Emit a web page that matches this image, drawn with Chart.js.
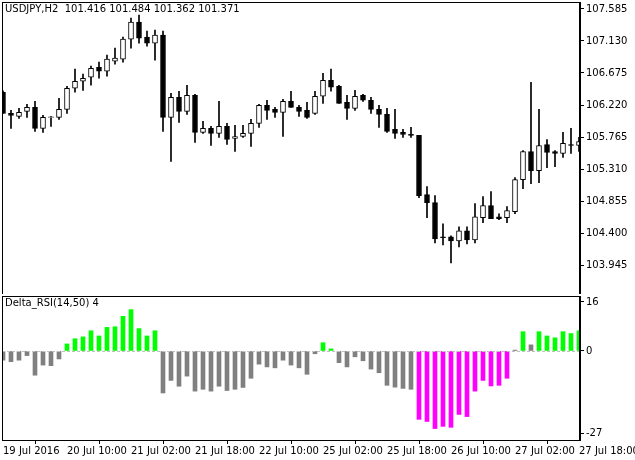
<!DOCTYPE html>
<html>
<head>
<meta charset="utf-8">
<script src="https://cdn.jsdelivr.net/npm/chart.js@4.4.1/dist/chart.umd.min.js"></script>
<style>
  body { margin: 0; background: #fff; }
  #wrap { position: relative; width: 635px; height: 460px; }
  #top { position: absolute; left: 0; top: 0; }
  #bot { position: absolute; left: 0; top: 294px; }
</style>
</head>
<body>
<div id="wrap">
  <canvas id="top" width="635" height="294"></canvas>
  <canvas id="bot" width="635" height="166"></canvas>
</div>
<script>
// USDJPY H2 candles
var opens = [106.401,106.101,106.058,106.130,106.187,105.887,106.044,106.044,106.158,106.458,
  106.558,106.615,106.757,106.700,106.843,106.872,107.157,107.399,107.185,107.100,
  107.214,106.044,106.329,106.130,106.358,105.830,105.887,105.816,105.916,105.745,
  105.773,105.816,105.959,106.215,106.158,106.116,106.272,106.187,106.144,106.101,
  106.344,106.572,106.486,106.258,106.173,106.358,106.287,106.158,106.087,105.873,
  105.830,105.802,105.788,104.946,104.832,104.347,104.347,104.290,104.433,104.304,
  104.618,104.789,104.632,104.618,104.704,105.160,105.559,105.288,105.659,105.559,
  105.531,105.659,105.645];
var highs = [106.420,106.144,106.173,106.230,106.272,106.073,106.058,106.315,106.486,106.729,
  106.658,106.772,106.829,106.929,107.028,107.185,107.456,107.499,107.271,107.285,
  107.271,106.386,106.415,106.501,106.372,105.987,105.916,106.272,105.959,105.930,
  105.930,106.016,106.230,106.287,106.187,106.301,106.415,106.215,106.258,106.415,
  106.672,106.729,106.501,106.358,106.429,106.372,106.329,106.215,106.173,106.158,
  105.873,105.902,105.788,105.060,104.932,104.532,104.361,104.490,104.490,104.818,
  104.918,104.989,104.675,104.775,105.188,105.574,106.543,106.158,105.730,105.574,
  105.830,105.887,105.759];
var lows = [106.100,105.887,106.030,106.044,105.845,105.830,105.916,106.016,106.101,106.401,
  106.429,106.501,106.600,106.629,106.800,106.829,107.028,107.100,107.057,106.857,
  105.845,105.417,105.973,106.087,105.688,105.816,105.645,105.759,105.659,105.559,
  105.759,105.631,105.902,106.016,106.044,105.773,106.187,106.058,106.030,106.087,
  106.244,106.415,106.244,106.016,106.144,106.272,106.101,105.902,105.830,105.745,
  105.759,105.759,104.903,104.618,104.261,104.233,103.976,104.204,104.247,104.261,
  104.546,104.604,104.589,104.546,104.675,105.032,105.103,105.117,105.331,105.345,
  105.474,105.531,105.559];
var closes = [106.101,106.073,106.116,106.187,105.887,106.044,106.050,106.158,106.458,106.558,
  106.600,106.743,106.700,106.872,106.886,107.157,107.399,107.171,107.100,107.214,
  106.044,106.329,106.130,106.358,105.830,105.887,105.816,105.916,105.730,105.773,
  105.816,105.959,106.215,106.144,106.116,106.272,106.187,106.130,106.044,106.344,
  106.572,106.472,106.244,106.173,106.344,106.287,106.158,106.087,105.845,105.816,
  105.802,105.788,104.932,104.832,104.318,104.333,104.290,104.433,104.304,104.632,
  104.789,104.604,104.604,104.718,105.160,105.559,105.288,105.645,105.545,105.531,
  105.674,105.645,105.702];

// Delta_RSI(14,50) histogram and its signal state (1 up, -1 down, 0 none)
var deltaRsi = [-3.0,-3.5,-3.0,-1.5,-7.9,-4.6,-4.8,-2.6,2.3,4.0,
  4.6,6.6,4.9,7.7,7.9,11.3,13.5,7.3,4.9,6.6,
  -13.7,-9.6,-11.5,-8.2,-13.1,-12.5,-13.1,-11.5,-12.9,-12.5,
  -11.9,-8.9,-4.3,-5.2,-5.5,-3.0,-4.6,-5.5,-7.6,-0.9,
  2.7,0.7,-3.8,-5.2,-1.9,-3.2,-5.9,-7.1,-11.2,-11.8,
  -12.2,-12.5,-22.3,-23.0,-25.3,-24.6,-24.9,-20.7,-21.4,-13.1,
  -9.6,-11.4,-11.2,-8.9,0.3,6.3,2.0,6.3,4.9,4.3,
  6.3,5.7,6.6];
var signal = [0,0,0,0,0,0,0,0,1,1, 1,1,1,1,1,1,1,1,1,1,
  0,0,0,0,0,0,0,0,0,0, 0,0,0,0,0,0,0,0,0,0,
  1,1,0,0,0,0,0,0,0,0, 0,0,-1,-1,-1,-1,-1,-1,-1,-1,
  -1,-1,-1,-1,0,1,0,1,1,1, 1,1,1];

var priceTicks = [103.945,104.400,104.855,105.310,105.765,106.220,106.675,107.130,107.585];
var rsiTicks = [16, 0, -27];
var timeTicks = [0, 8, 16, 24, 32, 40, 48, 56, 64, 72];
var timeLabels = ['19 Jul 2016','20 Jul 10:00','21 Jul 02:00','21 Jul 18:00','22 Jul 10:00',
  '25 Jul 02:00','25 Jul 18:00','26 Jul 10:00','27 Jul 02:00','27 Jul 18:00'];

var FONT = { family: 'DejaVu Sans', size: 10 };
Chart.defaults.font = FONT;
Chart.defaults.color = '#000';
Chart.defaults.animation = false;

var frame = {
  id: 'frame',
  afterDraw: function(chart, args, opts) {
    var a = chart.chartArea, c = chart.ctx;
    c.save();
    if (opts.zero) {
      var y0 = Math.round(chart.scales.y.getPixelForValue(0)) + 0.5;
      c.strokeStyle = '#c0c0c0'; c.setLineDash([3, 2]); c.lineWidth = 1;
      c.beginPath(); c.moveTo(a.left, y0); c.lineTo(a.right, y0); c.stroke();
      c.setLineDash([]);
    }
    c.strokeStyle = '#000'; c.lineWidth = 1;
    c.strokeRect(a.left + 0.5, a.top + 0.5, a.right - a.left - 1, a.bottom - a.top);
    c.fillStyle = '#000'; c.font = '10px "DejaVu Sans"'; c.textBaseline = 'top';
    c.fillText(opts.title, a.left + 3, a.top + 2);
    c.restore();
  }
};

function xs(i) { return i; }
var idx = opens.map(function(v, i) { return i; });

var wicks = idx.map(function(i) { return { x: i, y: [lows[i], highs[i]] }; });
var bodies = idx.map(function(i) {
  var lo = Math.min(opens[i], closes[i]), hi = Math.max(opens[i], closes[i]);
  if (hi - lo < 0.008) hi = lo + 0.008;
  return { x: i, y: [lo, hi] };
});

function fixRight(w) {
  return function(s) { s.width = w; s.paddingTop = 0; s.paddingBottom = 0; };
}

new Chart(document.getElementById('top'), {
  type: 'bar',
  data: {
    datasets: [
      { data: bodies, order: 0, grouped: false, barThickness: 5,
        backgroundColor: idx.map(function(i) { return closes[i] >= opens[i] ? '#fff' : '#000'; }),
        borderColor: '#000', borderWidth: 1, borderSkipped: false },
      { data: wicks, order: 1, grouped: false, barThickness: 1,
        backgroundColor: '#000', borderWidth: 0 }
    ]
  },
  options: {
    responsive: false,
    layout: { padding: { top: 2, left: 2, bottom: 0, right: 0 } },
    plugins: { legend: { display: false }, tooltip: { enabled: false },
      frame: { title: 'USDJPY,H2  101.416 101.484 101.362 101.371' } },
    scales: {
      x: { type: 'linear', min: -0.125, max: 72.125, display: false, offset: false },
      y: { position: 'right', min: 103.534, max: 107.684,
        afterBuildTicks: function(s) { s.ticks = priceTicks.map(function(v) { return { value: v }; }); },
        afterFit: fixRight(55),
        grid: { drawOnChartArea: false, tickLength: 4, color: '#000' },
        border: { color: '#000' },
        ticks: { padding: 2, callback: function(v) { return v.toFixed(3); } } }
    }
  },
  plugins: [frame]
});

new Chart(document.getElementById('bot'), {
  type: 'bar',
  data: {
    datasets: [{
      data: idx.map(function(i) { return { x: i, y: deltaRsi[i] }; }),
      barThickness: 4,
      backgroundColor: signal.map(function(s) { return s > 0 ? '#00ff00' : s < 0 ? '#ff00ff' : '#808080'; })
    }]
  },
  options: {
    responsive: false,
    layout: { padding: { top: 2, left: 2, bottom: 0, right: 0 } },
    plugins: { legend: { display: false }, tooltip: { enabled: false },
      frame: { title: 'Delta_RSI(14,50) 4', zero: true } },
    scales: {
      x: { type: 'linear', min: -0.125, max: 72.125, offset: false,
        afterBuildTicks: function(s) { s.ticks = timeTicks.map(function(v) { return { value: v }; }); },
        afterFit: function(s) { s.height = 20; s.paddingLeft = 0; s.paddingRight = 0; },
        grid: { drawOnChartArea: false, tickLength: 4, color: '#000' },
        border: { color: '#000' },
        ticks: { align: 'start', padding: 1, maxRotation: 0, autoSkip: false,
          callback: function(v) { return timeLabels[timeTicks.indexOf(v)]; } } },
      y: { position: 'right', min: -29.04, max: 17.94,
        afterBuildTicks: function(s) { s.ticks = rsiTicks.map(function(v) { return { value: v }; }); },
        afterFit: fixRight(55),
        grid: { drawOnChartArea: false, tickLength: 4, color: '#000' },
        border: { color: '#000' },
        ticks: { padding: 2 } }
    }
  },
  plugins: [frame]
});
</script>
</body>
</html>
